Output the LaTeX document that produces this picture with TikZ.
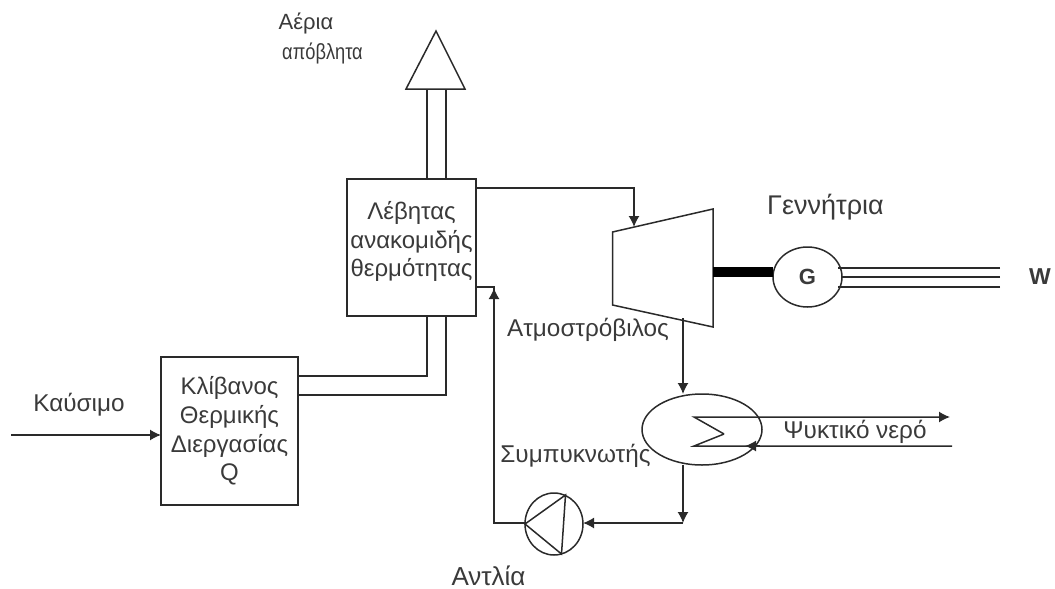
\documentclass[tikz,border=0pt]{standalone}
\usepackage{graphicx}
\usepackage{fontspec}
\setmainfont{Liberation Sans}
\usetikzlibrary{arrows.meta,shapes.geometric}
\definecolor{ink}{HTML}{2A2A2A}
\definecolor{txt}{HTML}{3A3A3A}
\tikzset{
  every node/.style={inner sep=0pt,outer sep=0pt},
  pipe/.style={draw=ink,line width=1.5pt},
  flow/.style={pipe,-{Latex[length=11pt,width=11pt]}},
  blockbox/.style={draw=ink,line width=1.5pt,rectangle,align=center,text=txt,
    font=\fontsize{24}{28.6}\selectfont},
  lbl/.style={text=txt,font=\fontsize{24.3}{28}\selectfont,anchor=center},
  oval/.style={draw=ink,line width=1.5pt,ellipse},
}
\begin{document}
\begin{tikzpicture}[x=1pt,y=-1pt]
\useasboundingbox (0,0) rectangle (1055,589);
% blocks
\node[blockbox,minimum width=129pt,minimum height=137pt] (boiler) at (411.5,247.5)
  {Λέβητας\\ανακομιδής\\θερμότητας\\[-12pt]\mbox{}};
\node[blockbox,minimum width=137pt,minimum height=148pt] (furnace) at (229.5,431)
  {Κλίβανος\\Θερμικής\\Διεργασίας\\Q};
% stack
\coordinate (stackL) at (406,89);
\coordinate (stackR) at (465,89);
\coordinate (stackT) at (436,31);
\draw[pipe,line join=miter] (stackL) -- (stackT) -- (stackR) -- cycle;
\coordinate (sa) at (427,89); \coordinate (sb) at (446,89);
\draw[pipe] (sa) -- (sa |- boiler.north);
\draw[pipe] (sb) -- (sb |- boiler.north);
% furnace to boiler
\coordinate (fa) at (furnace.east |- 0,376);
\coordinate (fb) at (furnace.east |- 0,395);
\draw[pipe] (fa) -| (sa |- boiler.south);
\draw[pipe] (fb) -| (sb |- boiler.south);
% fuel
\coordinate (fuel) at (11,435);
\draw[flow] (fuel) -- (furnace.west |- fuel);
% turbine
\coordinate (tTL) at (612.5,232);
\coordinate (tTR) at (713,209);
\coordinate (tBR) at (713,327);
\coordinate (tBL) at (612.5,305);
\draw[pipe] (tTL) -- (tTR) -- (tBR) -- (tBL) -- cycle;
\coordinate (tin) at (634,227);
\coordinate (bout) at (boiler.east |- 0,188);
\draw[flow] (bout) -| (tin);
% generator
\node[oval,minimum width=69pt,minimum height=60pt] (gen) at (807.5,277)
  {\fontsize{22}{24}\selectfont\bfseries\textcolor{txt}{G}};
\coordinate (shaft) at (713,272);
\draw[draw=black,line width=10pt] (shaft) -- (shaft -| gen.west);
\coordinate (wa) at (1000,268); \coordinate (wb) at (1000,277); \coordinate (wc) at (1000,287);
\draw[pipe] (wa) -- (wa -| 838,0);
\draw[pipe] (wb) -- (gen.east |- wb);
\draw[pipe] (wc) -- (wc -| 838,0);
\node[lbl,font=\fontsize{23}{26}\selectfont\bfseries] (w) at (1040,277) {W};
% condenser
\node[oval,minimum width=120pt,minimum height=71pt] (cond) at (702,429.5) {};
\coordinate (tout) at (683,318);
\coordinate (cin) at (683,394);
\draw[flow] (tout) -- (cin);
\coordinate (cw1) at (694,417);
\coordinate (cw2) at (724,434);
\coordinate (cw3) at (694,446);
\coordinate (cwout) at (950,417);
\coordinate (cwin) at (952,446);
\coordinate (cwtip) at (745,446);
\draw[flow] (cw2) -- (cw1) -- (cwout);
\draw[pipe] (cw2) -- (cw3) -- (cwin);
\draw[flow] (760,446) -- (cwtip);
% pump
\node[oval,minimum width=58pt,minimum height=62pt] (pump) at (554,524) {};
\coordinate (pA) at (565.5,495);
\coordinate (pB) at (561.5,554);
\draw[pipe] (pump.west) -- (pA) -- (pB) -- cycle;
\coordinate (cout) at (683,465);
\coordinate (junc) at (683,523);
\draw[flow] (cout) -- (junc);
\draw[flow] (junc) -- (pump.east |- junc);
% return
\coordinate (ret) at (494,523);
\coordinate (rtop) at (494,287);
\draw[pipe] (pump.west |- ret) -- (ret) -- (rtop) -- (boiler.east |- rtop);
\draw[flow] (494,305) -- (494,288);
% labels
\node[lbl,font=\fontsize{22}{26}\selectfont] (l1) at (306,23) {Αέρια};
\node[lbl,font=\fontsize{22}{26}\selectfont] (l2) at (322.5,53) {\scalebox{0.83}[1]{απόβλητα}};
\node[lbl] (l3) at (79,405) {Καύσιμο};
\node[lbl,font=\fontsize{27}{30}\selectfont] (l4) at (825.5,207) {Γεννήτρια};
\node[lbl] (l5) at (588,330) {Ατμοστρόβιλος};
\node[lbl] (l6) at (575.5,456) {Συμπυκνωτής};
\node[lbl] (l7) at (855,432) {Ψυκτικό νερό};
\node[lbl,font=\fontsize{26}{30}\selectfont] (l8) at (488.5,576) {Αντλία};
\end{tikzpicture}
\end{document}
